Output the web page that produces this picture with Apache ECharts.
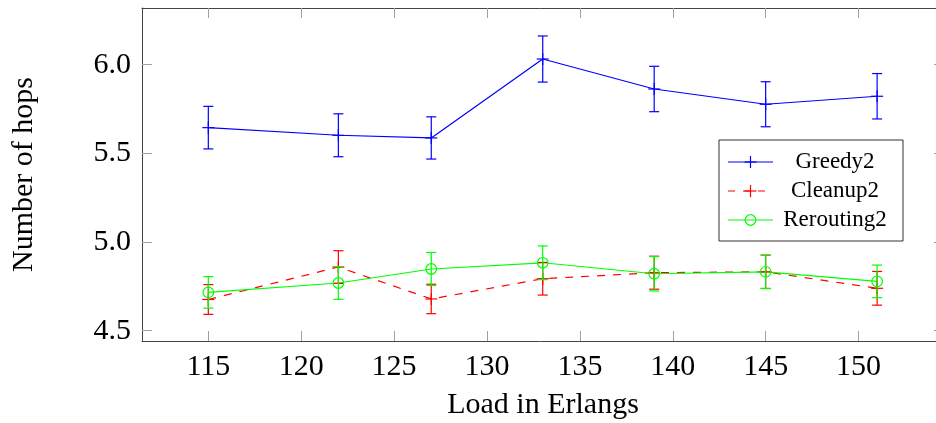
<!DOCTYPE html>
<html>
<head>
<meta charset="utf-8">
<script src="https://cdn.jsdelivr.net/npm/echarts@6/dist/echarts.min.js"></script>
<style>
html,body{margin:0;padding:0;background:#fff;}
#chart{width:936px;height:423px;}
</style>
</head>
<body>
<div id="chart"></div>
<script>
// ---- data ----
const loads = [115, 122, 127, 133, 139, 145, 151];
const greedyMean = [5.645, 5.602, 5.587, 6.032, 5.863, 5.777, 5.822];
const greedyErr  = [0.120, 0.121, 0.119, 0.130, 0.128, 0.127, 0.128];
const cleanupMean = [4.676, 4.859, 4.679, 4.793, 4.827, 4.832, 4.739];
const cleanupErr  = [0.084, 0.092, 0.083, 0.092, 0.093, 0.094, 0.095];
const reroutingMean = [4.716, 4.769, 4.848, 4.883, 4.821, 4.832, 4.778];
const reroutingErr  = [0.089, 0.092, 0.093, 0.095, 0.097, 0.094, 0.092];
const xTicks = [115, 120, 125, 130, 135, 140, 145, 150];
const yTicks = [4.5, 5.0, 5.5, 6.0];
const seriesNames = ['Greedy2', 'Cleanup2', 'Rerouting2'];

const FONT = '"Liberation Serif", "DejaVu Serif", serif';
const BLUE = '#0000ff', RED = '#ff0000', GREEN = '#00ff00';
const LW = 1.2;

function pts(means) { return loads.map((x, i) => [x, means[i]]); }
function errPts(means, errs) { return loads.map((x, i) => [x, means[i], errs[i]]); }

function markShapes(cx, cy, mark, color) {
  const st = {stroke: color, lineWidth: LW, fill: null};
  if (mark === 'plus') {
    return [
      {type: 'line', shape: {x1: cx - 6, y1: cy, x2: cx + 6, y2: cy}, style: st},
      {type: 'line', shape: {x1: cx, y1: cy - 6, x2: cx, y2: cy + 6}, style: st}
    ];
  }
  return [{type: 'circle', shape: {cx: cx, cy: cy, r: 5.3}, style: {stroke: color, lineWidth: LW, fill: null}}];
}

function makeRender(color, mark) {
  return function (params, api) {
    const x = api.value(0), y = api.value(1), e = api.value(2);
    const c = api.coord([x, y]);
    const t = api.coord([x, y + e]);
    const b = api.coord([x, y - e]);
    const cw = 5;
    const st = {stroke: color, lineWidth: LW, fill: null};
    const children = [
      {type: 'line', shape: {x1: c[0], y1: t[1], x2: c[0], y2: b[1]}, style: st},
      {type: 'line', shape: {x1: c[0] - cw, y1: t[1], x2: c[0] + cw, y2: t[1]}, style: st},
      {type: 'line', shape: {x1: c[0] - cw, y1: b[1], x2: c[0] + cw, y2: b[1]}, style: st}
    ].concat(markShapes(c[0], c[1], mark, color));
    return {type: 'group', children: children};
  };
}

const chart = echarts.init(document.getElementById('chart'), null, {renderer: 'canvas'});

const axisLineStyle = {lineStyle: {color: '#444', width: 1}};
const tickStyle = {inside: true, length: 10, lineStyle: {color: '#a0a0a0', width: 1}};

// legend drawn as graphic
const legX = 719, legY = 140, legW = 184, legH = 101;
const rowsY = [162, 191, 220];
const legColors = [BLUE, RED, GREEN];
const legMarks = ['plus', 'plus', 'circle'];
const legDash = [null, [7, 8], null];
const legendEls = [{
  type: 'rect', shape: {x: legX, y: legY, width: legW, height: legH},
  style: {fill: '#fff', stroke: '#333', lineWidth: 1}, z: 100
}];
seriesNames.forEach((name, i) => {
  const y = rowsY[i];
  legendEls.push({
    type: 'line', shape: {x1: 728, y1: y, x2: 773, y2: y},
    style: {stroke: legColors[i], lineWidth: LW, lineDash: legDash[i] || null}, z: 101
  });
  markShapes(750.5, y, legMarks[i], legColors[i]).forEach(s => { s.z = 102; legendEls.push(s); });
  legendEls.push({
    type: 'text', x: 835, y: y,
    style: {text: name, font: '23px ' + FONT, fill: '#000', textAlign: 'center', textVerticalAlign: 'middle'},
    z: 102
  });
});

const option = {
  animation: false,
  backgroundColor: '#fff',
  grid: {left: 142, top: 8, right: -8, bottom: 82, containLabel: false, outerBoundsMode: 'none'},
  xAxis: [{
    type: 'value', min: 111.43, max: 154.6, position: 'bottom',
    name: 'Load in Erlangs', nameLocation: 'middle', nameGap: 49,
    nameTextStyle: {fontFamily: FONT, fontSize: 30, color: '#000'},
    axisLine: axisLineStyle,
    axisTick: Object.assign({customValues: xTicks}, tickStyle),
    axisLabel: {customValues: xTicks, fontFamily: FONT, fontSize: 30, color: '#000', margin: 11},
    splitLine: {show: false}
  }, {
    type: 'value', min: 111.43, max: 154.6, position: 'top',
    axisLine: axisLineStyle,
    axisTick: Object.assign({customValues: xTicks}, tickStyle),
    axisLabel: {show: false},
    splitLine: {show: false}
  }],
  yAxis: [{
    type: 'value', min: 4.4419, max: 6.3197, position: 'left',
    name: 'Number of hops', nameLocation: 'middle', nameGap: 103, nameRotate: 90,
    nameTextStyle: {fontFamily: FONT, fontSize: 30, color: '#000'},
    axisLine: axisLineStyle,
    axisTick: Object.assign({customValues: yTicks}, tickStyle),
    axisLabel: {customValues: yTicks, fontFamily: FONT, fontSize: 30, color: '#000', margin: 11,
      formatter: v => Number(v).toFixed(1)},
    splitLine: {show: false}
  }, {
    type: 'value', min: 4.4419, max: 6.3197, position: 'right',
    axisLine: axisLineStyle,
    axisTick: Object.assign({customValues: yTicks}, tickStyle),
    axisLabel: {show: false},
    splitLine: {show: false}
  }],
  series: [
    {name: seriesNames[0], type: 'line', data: pts(greedyMean), symbol: 'none',
     lineStyle: {color: BLUE, width: LW}, z: 3},
    {name: seriesNames[1], type: 'line', data: pts(cleanupMean), symbol: 'none',
     lineStyle: {color: RED, width: LW, type: [8, 8]}, z: 3},
    {name: seriesNames[2], type: 'line', data: pts(reroutingMean), symbol: 'none',
     lineStyle: {color: GREEN, width: LW}, z: 3},
    {name: seriesNames[0] + ' err', type: 'custom', data: errPts(greedyMean, greedyErr),
     encode: {x: 0, y: 1}, renderItem: makeRender(BLUE, 'plus'), z: 4},
    {name: seriesNames[1] + ' err', type: 'custom', data: errPts(cleanupMean, cleanupErr),
     encode: {x: 0, y: 1}, renderItem: makeRender(RED, 'plus'), z: 4},
    {name: seriesNames[2] + ' err', type: 'custom', data: errPts(reroutingMean, reroutingErr),
     encode: {x: 0, y: 1}, renderItem: makeRender(GREEN, 'circle'), z: 4}
  ],
  graphic: legendEls
};
chart.setOption(option);
</script>
</body>
</html>
